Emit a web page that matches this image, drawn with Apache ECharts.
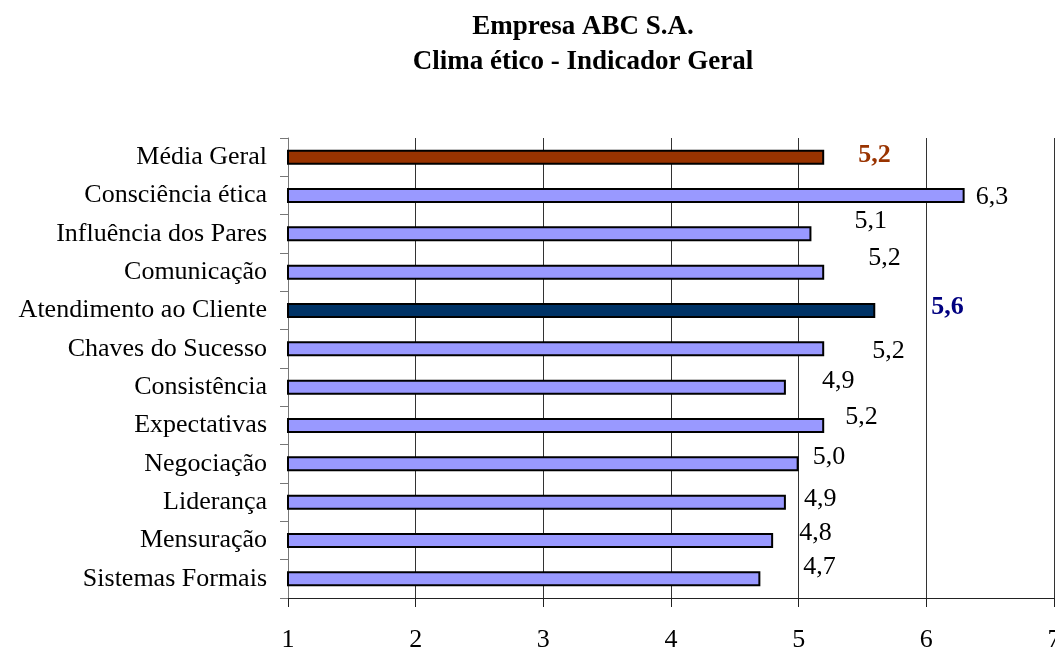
<!DOCTYPE html>
<html>
<head>
<meta charset="utf-8">
<script src="https://cdn.jsdelivr.net/npm/echarts@6/dist/echarts.min.js"></script>
<style>
  html, body { margin: 0; padding: 0; background: #fff; }
  #chart { width: 1055px; height: 654px; }
</style>
</head>
<body>
<div id="chart"></div>
<script>
// categories, top to bottom
const categories = ['Média Geral', 'Consciência ética', 'Influência dos Pares', 'Comunicação',
  'Atendimento ao Cliente', 'Chaves do Sucesso', 'Consistência', 'Expectativas',
  'Negociação', 'Liderança', 'Mensuração', 'Sistemas Formais']
const scores = [5.2, 6.3, 5.1, 5.2, 5.6, 5.2, 4.9, 5.2, 5.0, 4.9, 4.8, 4.7]
const xTicks = [1, 2, 3, 4, 5, 6, 7]

// label placement as in the original sheet (px from bar end)
const labelNudge = [[34, -2], [11, 2], [43, -13], [44, -14], [56, -3], [48, 2],
  [36, -6], [21, -8], [14, -7], [18, -3], [26, -7], [43, -12]]

const font = 'Liberation Serif'
const special = {
  'Média Geral': { bar: '#993300', text: '#993300', bold: true },
  'Atendimento ao Cliente': { bar: '#003366', text: '#000080', bold: true }
}

const barData = scores.map((v, i) => {
  const s = special[categories[i]]
  return {
    value: v,
    itemStyle: { color: s ? s.bar : '#9999ff' },
    label: {
      offset: labelNudge[i],
      color: s ? s.text : '#000',
      fontWeight: s ? 'bold' : 'normal'
    }
  }
})

const myEcharts = echarts.init(document.getElementById('chart'))
myEcharts.setOption({
  animation: false,
  title: {
    text: 'Empresa ABC S.A.\nClima ético - Indicador Geral',
    left: 578,
    top: 5,
    textAlign: 'center',
    textStyle: { fontFamily: font, fontWeight: 'bold', fontSize: 27, lineHeight: 35, color: '#000' }
  },
  grid: { left: 288, right: 1, top: 138, bottom: 56, outerBoundsMode: 'none', containLabel: false },
  xAxis: {
    type: 'value',
    min: xTicks[0],
    max: xTicks[xTicks.length - 1],
    interval: 1,
    axisLine: { show: true, lineStyle: { color: '#222', width: 1 } },
    axisTick: { show: true, length: 9, lineStyle: { color: '#222' } },
    splitLine: { show: true, lineStyle: { color: '#333', width: 1 } },
    axisLabel: { fontFamily: font, fontSize: 26, color: '#000', margin: 29 }
  },
  yAxis: {
    type: 'category',
    inverse: true,
    data: categories,
    axisLine: { show: true, lineStyle: { color: '#777', width: 1 } },
    axisTick: { show: true, length: 8, lineStyle: { color: '#777' } },
    axisLabel: { fontFamily: font, fontSize: 26, color: '#000', margin: 21 }
  },
  series: [
    {
      type: 'bar',
      data: barData,
      startValue: 1,
      barWidth: 15,
      itemStyle: { borderColor: '#000', borderWidth: 2 },
      label: {
        show: true,
        position: 'right',
        distance: 0,
        fontFamily: font,
        fontSize: 26,
        formatter: p => p.value.toFixed(1).replace('.', ',')
      }
    }
  ]
})
</script>
</body>
</html>
